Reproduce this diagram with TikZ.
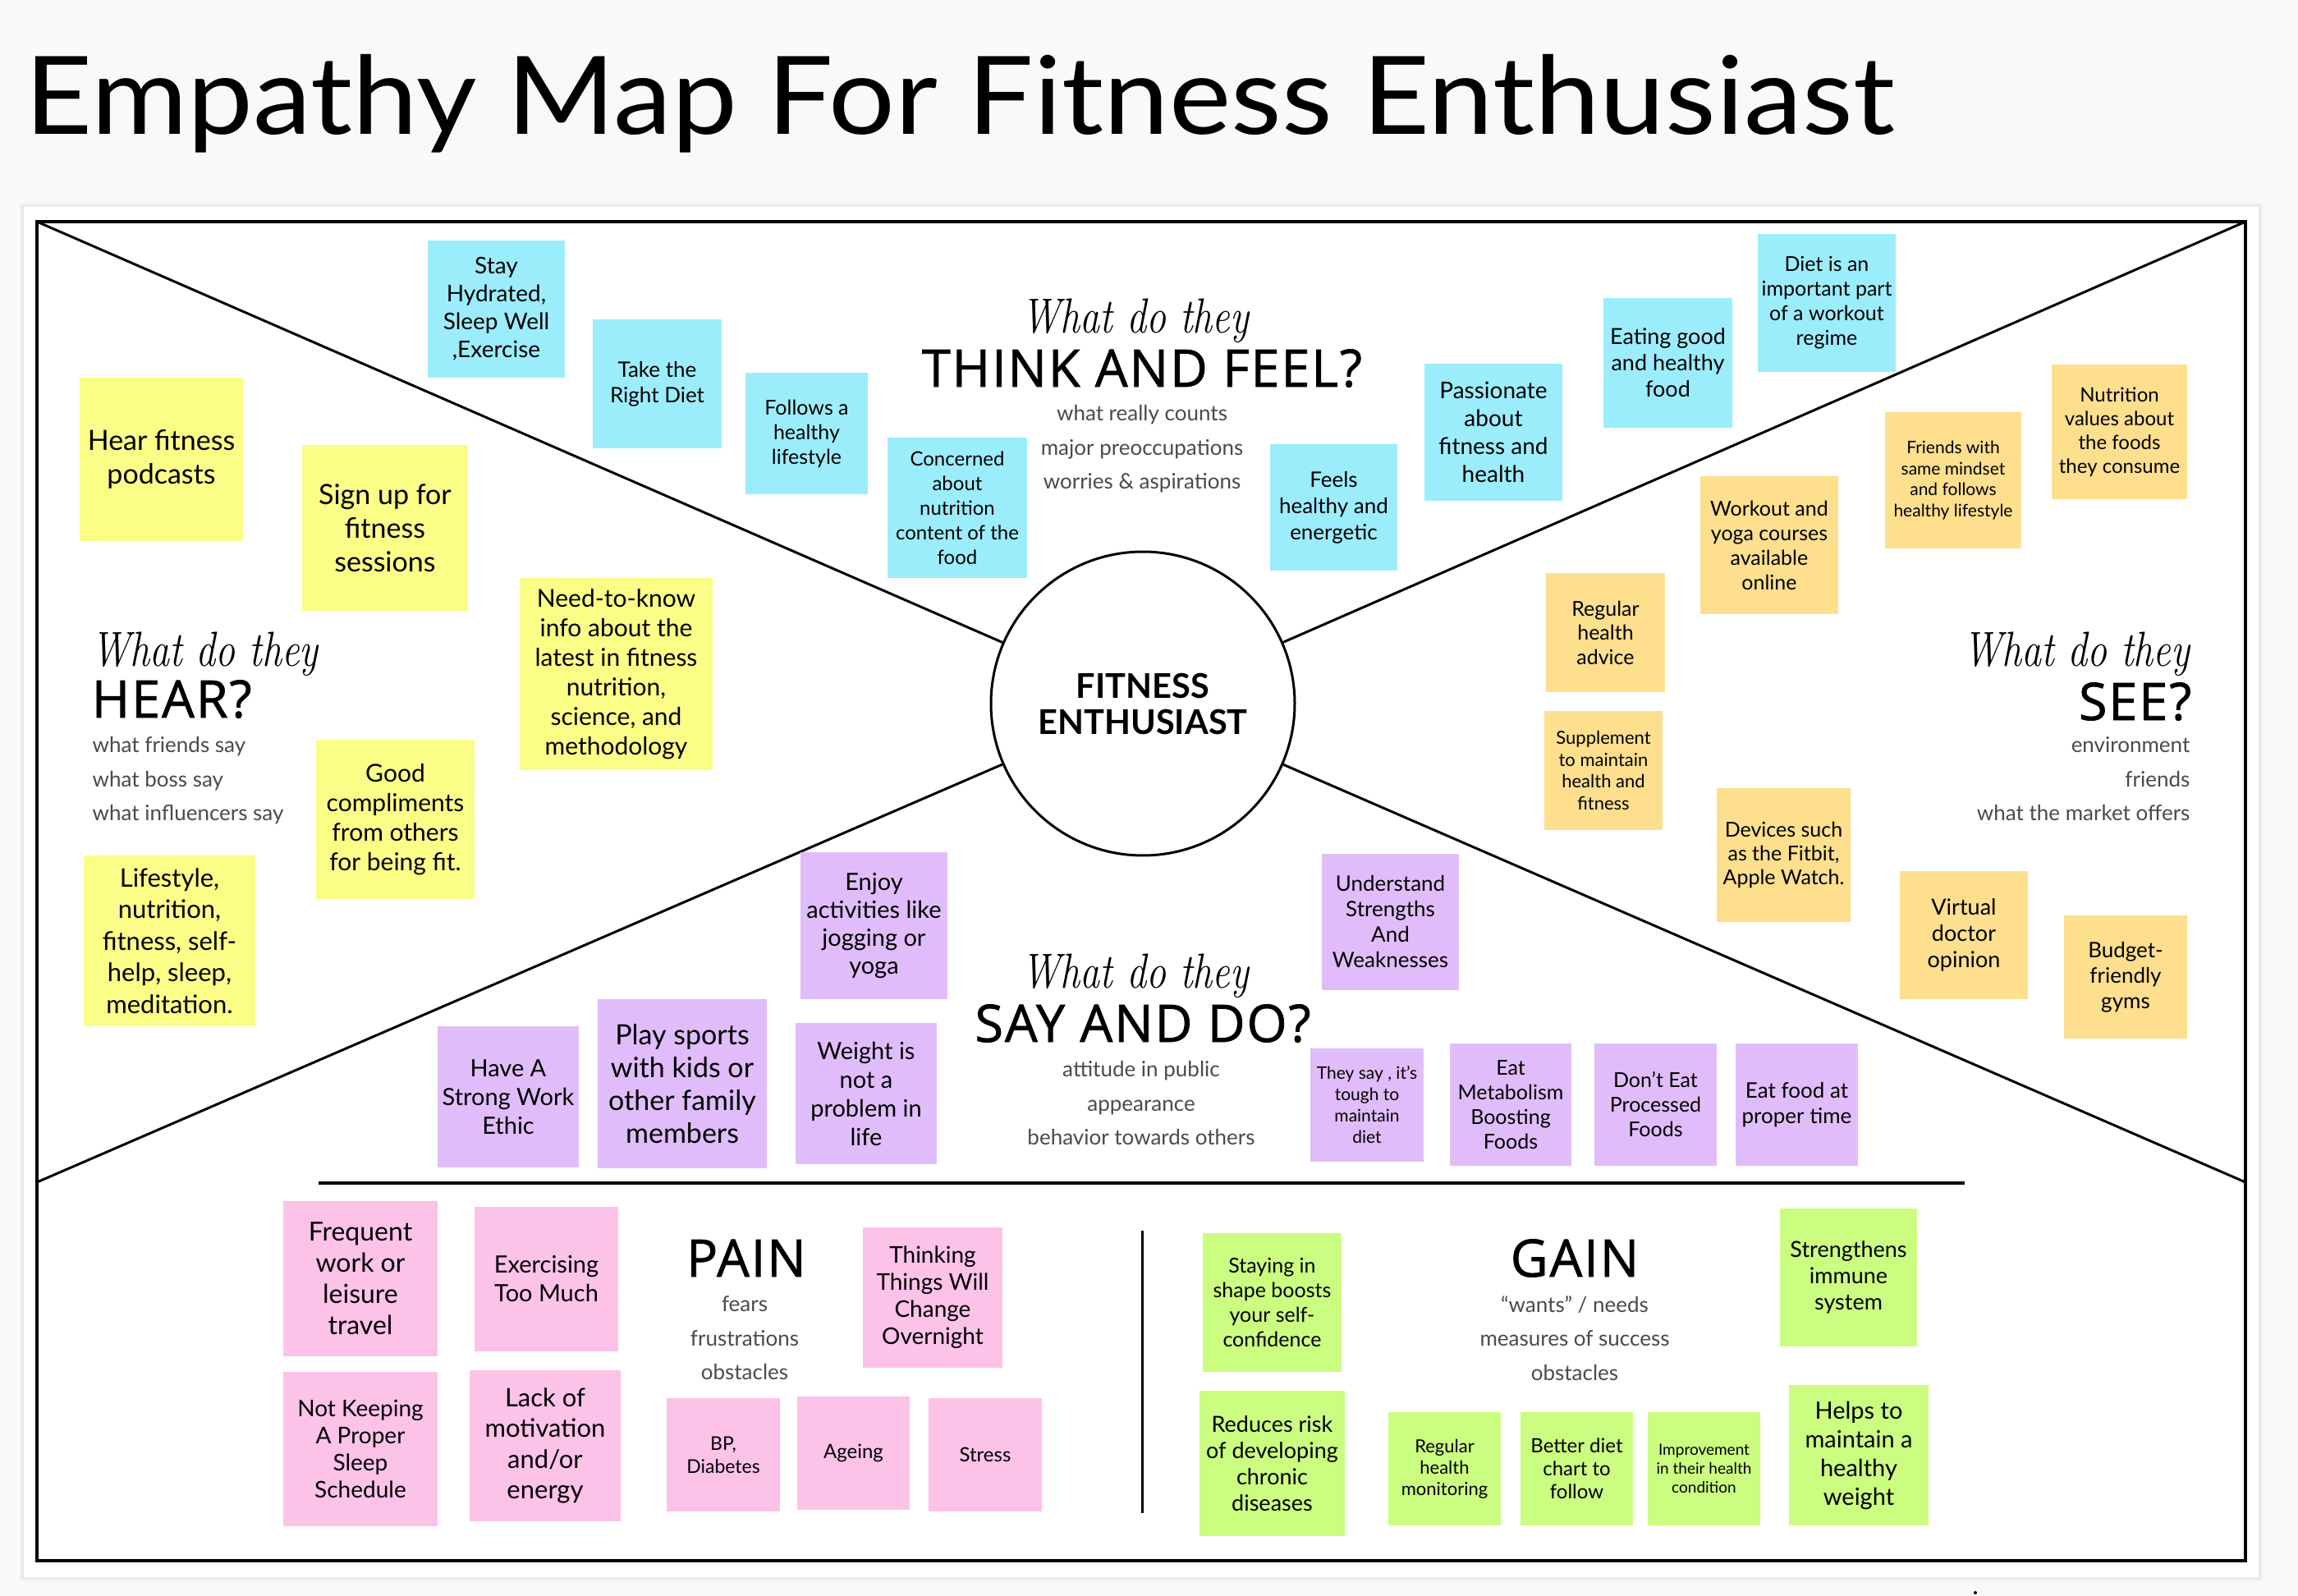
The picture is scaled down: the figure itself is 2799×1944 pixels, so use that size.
\documentclass[tikz,border=0pt]{standalone}
\usepackage{graphicx}
\usepackage{fontspec}
\setmainfont{Lato}
\newfontfamily\titlefont{Lato}[FakeStretch=1.08]
\newfontfamily\headfont{Open Sans}[FakeBold=1.2, LetterSpace=3]
\newfontfamily\whatfont{Latin Modern Roman}
\definecolor{pagebg}{HTML}{F9F9F9}
\definecolor{panelline}{HTML}{EBEBEB}
\definecolor{cyanN}{HTML}{9CEDFC}
\definecolor{yelN}{HTML}{FAFD86}
\definecolor{oraN}{HTML}{FDDF8E}
\definecolor{purN}{HTML}{E0BDFA}
\definecolor{pinN}{HTML}{FCC2E8}
\definecolor{grnN}{HTML}{CBFD80}
\definecolor{subgray}{HTML}{4A4A4A}
\newcommand\stick[9]{\node[note, fill=#2, minimum width={(#5-#3)*0.1mm}, minimum height={(#6-#4)*0.1mm}, font=\fontsize{#7mm}{#8mm}\selectfont] (#1) at ({(#3+#5)/2},{(#4+#6)/2}) {#9};}
\begin{document}
\begin{tikzpicture}[x=0.1mm, y=-0.1mm,
  note/.style={inner sep=0pt, outer sep=0pt, align=center, text=black},
  head/.style={inner sep=0pt, text=black, font=\headfont\fontsize{6.3mm}{7mm}\selectfont},
  sub/.style={inner sep=0pt, text=subgray, font=\fontsize{2.6mm}{4.15mm}\selectfont},
  what/.style={inner sep=0pt, text=black, font=\whatfont\itshape\fontsize{6mm}{7mm}\selectfont},
  frameline/.style={line width=0.3mm, black},
]
\useasboundingbox (0,0) rectangle (2799,1944);
\fill[pagebg] (0,0) rectangle (2799,1944);
\node[anchor=base west, inner sep=0pt, font=\titlefont\fontsize{13.2mm}{14mm}\selectfont] (title) at (30,164) {Empathy Map For Fitness Enthusiast};
\draw[panelline, fill=white, line width=0.4mm] (27,250) rectangle (2753,1923);
\draw[frameline, line width=0.35mm] (45,270) rectangle (2735,1901);
\coordinate (tl) at (45,270);
\coordinate (tr) at (2735,270);
\coordinate (bl) at (45,1440);
\coordinate (br) at (2735,1440);
\coordinate (hl) at (388,1441);
\coordinate (hr) at (2393,1441);
\coordinate (vt) at (1391,1499);
\coordinate (vb) at (1391,1843);
\node[draw, circle, line width=0.3mm, minimum size=37mm, inner sep=0pt, fill=white, align=center, font=\bfseries\fontsize{4.15mm}{4.4mm}\selectfont] (ctr) at (1392,857) {FITNESS\\ENTHUSIAST};
\draw[frameline] (tl) -- (ctr);
\draw[frameline] (tr) -- (ctr);
\draw[frameline] (bl) -- (ctr);
\draw[frameline] (br) -- (ctr);
\draw[frameline, line width=0.4mm] (hl) -- (hr);
\draw[frameline] (vt) -- (vb);
% THINK AND FEEL
\node[what, anchor=base] (tfw) at (1383,406) {\scalebox{0.8}[1]{What do they}};
\node[head, anchor=base] (tfh) at (1391,471) {THINK AND FEEL?};
\node[sub, align=center] (tfs) at (1391,547) {what really counts\\major preoccupations\\worries \& aspirations};
% HEAR
\node[what, anchor=base west] (hw) at (111,811) {\scalebox{0.8}[1]{What do they}};
\node[head, anchor=base west] (hh) at (111,874) {HEAR?};
\node[sub, align=left, anchor=west] (hs) at (112,951) {what friends say\\what boss say\\what influencers say};
% SEE
\node[what, anchor=base east] (sw) at (2668,811) {\scalebox{0.8}[1]{What do they}};
\node[head, anchor=base east] (sh) at (2670,877) {SEE?};
\node[sub, align=right, anchor=east] (ss) at (2668,949) {environment\\friends\\what the market offers};
% SAY AND DO
\node[what, anchor=base] (dw) at (1383,1203) {\scalebox{0.8}[1]{What do they}};
\node[head, anchor=base] (dh) at (1392,1269) {SAY AND DO?};
\node[sub, align=center] (ds) at (1390,1344) {attitude in public\\appearance\\behavior towards others};
% PAIN / GAIN
\node[head, anchor=base] (ph) at (909,1555) {PAIN};
\node[sub, align=center] (ps) at (907,1630) {fears\\frustrations\\obstacles};
\node[head, anchor=base] (gh) at (1918,1555) {GAIN};
\node[sub, align=center] (gs) at (1918,1630) {“wants” / needs\\measures of success\\obstacles};
% cyan notes
\stick{n1}{cyanN}{521}{293}{688}{460}{2.8}{3.4}{Stay\\Hydrated,\\Sleep Well\\,Exercise}
\stick{n2}{cyanN}{722}{389}{879}{546}{2.6}{3.1}{Take the\\Right Diet}
\stick{n3}{cyanN}{908}{454}{1057}{602}{2.5}{3.0}{Follows a\\healthy\\lifestyle}
\stick{n4}{cyanN}{1081}{533}{1251}{704}{2.4}{3.0}{Concerned\\about\\nutrition\\content of the\\food}
\stick{n5}{cyanN}{1547}{541}{1702}{695}{2.6}{3.2}{Feels\\healthy and\\energetic}
\stick{n6}{cyanN}{1735}{443}{1903}{610}{2.8}{3.4}{Passionate\\about\\fitness and\\health}
\stick{n7}{cyanN}{1953}{363}{2110}{521}{2.7}{3.2}{Eating good\\and healthy\\food}
\stick{n8}{cyanN}{2141}{285}{2309}{453}{2.5}{3.0}{Diet is an\\important part\\of a workout\\regime}
% orange notes
\stick{o1}{oraN}{2499}{444}{2664}{608}{2.4}{2.9}{Nutrition\\values about\\the foods\\they consume}
\stick{o2}{oraN}{2296}{502}{2462}{668}{2.1}{2.56}{Friends with\\same mindset\\and follows\\healthy lifestyle}
\stick{o3}{oraN}{2071}{580}{2239}{748}{2.5}{3.0}{Workout and\\yoga courses\\available\\online}
\stick{o4}{oraN}{1883}{698}{2028}{843}{2.5}{2.95}{Regular\\health\\advice}
\stick{o5}{oraN}{1881}{866}{2025}{1011}{2.2}{2.65}{Supplement\\to maintain\\health and\\fitness}
\stick{o6}{oraN}{2091}{960}{2254}{1123}{2.5}{2.9}{Devices such\\as the Fitbit,\\Apple Watch.}
\stick{o7}{oraN}{2314}{1061}{2470}{1217}{2.7}{3.2}{Virtual\\doctor\\opinion}
\stick{o8}{oraN}{2514}{1115}{2664}{1265}{2.6}{3.1}{Budget-\\friendly\\gyms}
% yellow notes
\stick{y1}{yelN}{97}{460}{296}{659}{3.4}{4.1}{Hear fitness\\podcasts}
\stick{y2}{yelN}{368}{542}{570}{744}{3.4}{4.1}{Sign up for\\fitness\\sessions}
\stick{y3}{yelN}{633}{704}{868}{938}{3.0}{3.6}{Need-to-know\\info about the\\latest in fitness\\nutrition,\\science, and\\methodology}
\stick{y4}{yelN}{385}{901}{578}{1095}{3.0}{3.6}{Good\\compliments\\from others\\for being fit.}
\stick{y5}{yelN}{102}{1042}{311}{1250}{3.1}{3.85}{Lifestyle,\\nutrition,\\fitness, self-\\help, sleep,\\meditation.}
% purple notes
\stick{p1}{purN}{533}{1250}{705}{1422}{2.9}{3.5}{Have A\\Strong Work\\Ethic}
\stick{p2}{purN}{728}{1217}{934}{1423}{3.4}{4.0}{Play sports\\with kids or\\other family\\members}
\stick{p3}{purN}{975}{1038}{1154}{1217}{2.9}{3.4}{Enjoy\\activities like\\jogging or\\yoga}
\stick{p4}{purN}{969}{1246}{1141}{1418}{2.9}{3.5}{Weight is\\not a\\problem in\\life}
\stick{p5}{purN}{1610}{1040}{1777}{1206}{2.6}{3.1}{Understand\\Strengths\\And\\Weaknesses}
\stick{p6}{purN}{1596}{1277}{1734}{1415}{2.1}{2.6}{They say , it’s\\tough to\\maintain\\diet}
\stick{p7}{purN}{1766}{1271}{1914}{1420}{2.5}{3.0}{Eat\\Metabolism\\Boosting\\Foods}
\stick{p8}{purN}{1942}{1271}{2091}{1420}{2.5}{3.0}{Don’t Eat\\Processed\\Foods}
\stick{p9}{purN}{2114}{1271}{2263}{1420}{2.6}{3.05}{Eat food at\\proper time}
% pink notes
\stick{k1}{pinN}{345}{1463}{533}{1652}{3.2}{3.8}{Frequent\\work or\\leisure\\travel}
\stick{k2}{pinN}{578}{1470}{753}{1646}{2.9}{3.5}{Exercising\\Too Much}
\stick{k3}{pinN}{1051}{1495}{1221}{1666}{2.8}{3.3}{Thinking\\Things Will\\Change\\Overnight}
\stick{k4}{pinN}{345}{1671}{533}{1859}{2.8}{3.3}{Not Keeping\\A Proper\\Sleep\\Schedule}
\stick{k5}{pinN}{572}{1669}{756}{1853}{3.1}{3.75}{Lack of\\motivation\\and/or\\energy}
\stick{k6}{pinN}{812}{1703}{950}{1841}{2.3}{2.8}{BP,\\Diabetes}
\stick{k7}{pinN}{971}{1701}{1108}{1839}{2.4}{2.9}{Ageing}
\stick{k8}{pinN}{1131}{1703}{1269}{1841}{2.4}{2.9}{Stress}
% green notes
\stick{g1}{grnN}{1465}{1502}{1634}{1671}{2.5}{3.0}{Staying in\\shape boosts\\your self-\\confidence}
\stick{g2}{grnN}{1461}{1694}{1638}{1871}{2.7}{3.2}{Reduces risk\\of developing\\chronic\\diseases}
\stick{g3}{grnN}{1691}{1720}{1828}{1858}{2.2}{2.6}{Regular\\health\\monitoring}
\stick{g4}{grnN}{1852}{1720}{1989}{1858}{2.4}{2.8}{Better diet\\chart to\\follow}
\stick{g5}{grnN}{2007}{1720}{2144}{1858}{1.9}{2.3}{Improvement\\in their health\\condition}
\stick{g6}{grnN}{2168}{1472}{2335}{1640}{2.7}{3.2}{Strengthens\\immune\\system}
\stick{g7}{grnN}{2179}{1687}{2349}{1858}{2.9}{3.5}{Helps to\\maintain a\\healthy\\weight}
\fill[black] (2406,1940) circle (0.2mm);
\end{tikzpicture}
\end{document}
